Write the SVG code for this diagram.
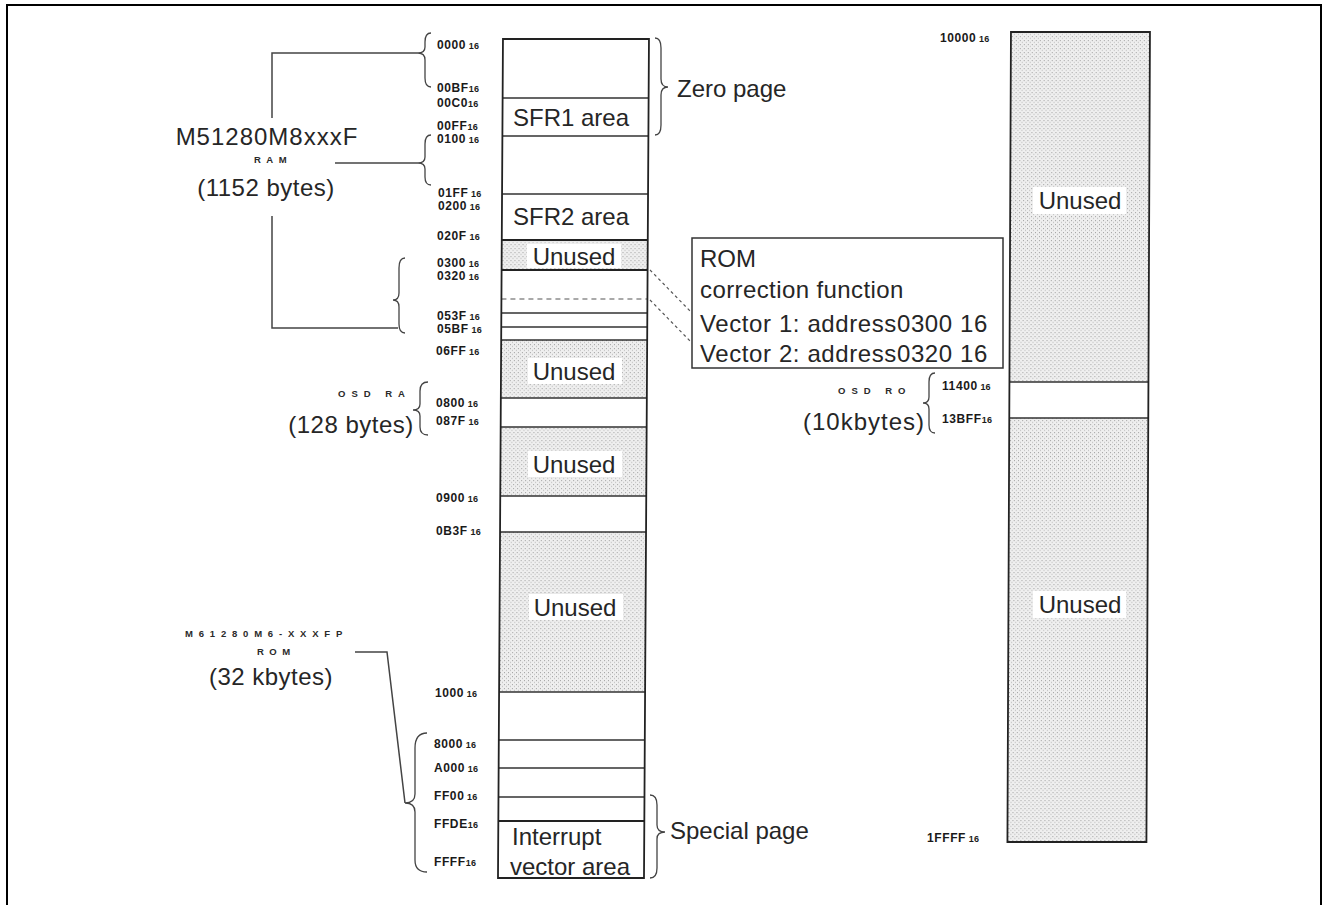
<svg xmlns="http://www.w3.org/2000/svg" width="1323" height="905" viewBox="0 0 1323 905">
<defs>
<pattern id="dots" patternUnits="userSpaceOnUse" width="4" height="4">
<rect width="4" height="4" fill="#efefef"/>
<rect x="0" y="0" width="1" height="1" fill="#a0a0a0"/>
<rect x="2" y="2" width="1" height="1" fill="#b0b0b0"/>
</pattern>
<style>
.big{font-family:"Liberation Sans",Arial,sans-serif;font-size:24px;fill:#262626}
.addr{font-family:"Liberation Sans",Arial,sans-serif;font-size:12px;font-weight:bold;fill:#1a1a1a;letter-spacing:0.6px}
.sub{font-size:9px;letter-spacing:0.2px}
.sp{font-family:"Liberation Sans",Arial,sans-serif;font-size:9.5px;font-weight:bold;fill:#2a2a2a}
.div{stroke:#333;stroke-width:1.5;fill:none}
.edge{stroke:#222;stroke-width:1.8;fill:none}
.brace{stroke:#444;stroke-width:1.3;fill:none}
.lead{stroke:#444;stroke-width:1.5;fill:none}
.dash{stroke:#555;stroke-width:1.2;fill:none;stroke-dasharray:3 3}
.unb{fill:#fff}
</style>
</defs>
<rect width="1323" height="905" fill="#fff"/>
<path d="M7,910 V5 H1321 V910" fill="none" stroke="#000" stroke-width="2"/>

<g id="main-column">
<g transform="skewX(-0.34)">
<rect x="503.2" y="39" width="146" height="839" fill="#fff"/>
<rect x="503.2" y="240" width="146" height="30" fill="url(#dots)"/>
<rect x="503.2" y="340" width="146" height="58" fill="url(#dots)"/>
<rect x="503.2" y="427" width="146" height="69" fill="url(#dots)"/>
<rect x="503.2" y="532" width="146" height="160" fill="url(#dots)"/>
<path class="div" d="M503.2,98H649.2M503.2,136H649.2M503.2,194H649.2M503.2,313H649.2M503.2,327H649.2M503.2,340H649.2M503.2,398H649.2M503.2,427H649.2M503.2,496H649.2M503.2,532H649.2M503.2,692H649.2M503.2,740H649.2M503.2,768H649.2M503.2,797H649.2"/>
<path class="edge" d="M503.2,240H649.2M503.2,270H649.2M503.2,821H649.2"/>
<path d="M503.2,299H649.2" stroke="#555" stroke-width="1.2" stroke-dasharray="5 4"/>
<rect class="edge" x="503.2" y="39" width="146" height="839"/>
</g>
<rect class="unb" x="527" y="244" width="94" height="24"/>
<rect class="unb" x="528" y="358" width="94" height="26"/>
<rect class="unb" x="528" y="451" width="94" height="26"/>
<rect class="unb" x="529" y="594" width="94" height="26"/>
<text class="big" x="513" y="126">SFR1 area</text>
<text class="big" x="513" y="225">SFR2 area</text>
<text class="big" x="574" y="265" text-anchor="middle">Unused</text>
<text class="big" x="574" y="380" text-anchor="middle">Unused</text>
<text class="big" x="574" y="473" text-anchor="middle">Unused</text>
<text class="big" x="575" y="616" text-anchor="middle">Unused</text>
<text class="big" x="512" y="845">Interrupt</text>
<text class="big" x="510" y="875">vector area</text>
</g>

<g id="main-addresses">
<text class="addr" x="437" y="49">0000<tspan class="sub"> 16</tspan></text>
<text class="addr" x="437" y="92">00BF<tspan class="sub">16</tspan></text>
<text class="addr" x="437" y="107">00C0<tspan class="sub">16</tspan></text>
<text class="addr" x="437" y="130">00FF<tspan class="sub">16</tspan></text>
<text class="addr" x="437" y="143">0100<tspan class="sub"> 16</tspan></text>
<text class="addr" x="438" y="197">01FF<tspan class="sub"> 16</tspan></text>
<text class="addr" x="438" y="210">0200<tspan class="sub"> 16</tspan></text>
<text class="addr" x="437" y="240">020F<tspan class="sub"> 16</tspan></text>
<text class="addr" x="437" y="267">0300<tspan class="sub"> 16</tspan></text>
<text class="addr" x="437" y="280">0320<tspan class="sub"> 16</tspan></text>
<text class="addr" x="437" y="320">053F<tspan class="sub"> 16</tspan></text>
<text class="addr" x="437" y="333">05BF<tspan class="sub"> 16</tspan></text>
<text class="addr" x="436" y="355">06FF<tspan class="sub"> 16</tspan></text>
<text class="addr" x="436" y="407">0800<tspan class="sub"> 16</tspan></text>
<text class="addr" x="436" y="425">087F<tspan class="sub"> 16</tspan></text>
<text class="addr" x="436" y="502">0900<tspan class="sub"> 16</tspan></text>
<text class="addr" x="436" y="535">0B3F<tspan class="sub"> 16</tspan></text>
<text class="addr" x="435" y="697">1000<tspan class="sub"> 16</tspan></text>
<text class="addr" x="434" y="748">8000<tspan class="sub"> 16</tspan></text>
<text class="addr" x="434" y="772">A000<tspan class="sub"> 16</tspan></text>
<text class="addr" x="434" y="800">FF00<tspan class="sub"> 16</tspan></text>
<text class="addr" x="434" y="828">FFDE<tspan class="sub">16</tspan></text>
<text class="addr" x="434" y="866">FFFF<tspan class="sub">16</tspan></text>
</g>

<g id="right-column">
<g transform="skewX(-0.25)">
<rect x="1011.1" y="32" width="139" height="810" fill="#fff"/>
<rect x="1011.1" y="32" width="139" height="350" fill="url(#dots)"/>
<rect x="1011.1" y="418" width="139" height="424" fill="url(#dots)"/>
<path class="div" d="M1011.1,382H1150.1M1011.1,418H1150.1"/>
<rect class="edge" x="1011.1" y="32" width="139" height="810"/>
</g>
<rect class="unb" x="1033" y="187" width="93" height="27"/>
<rect class="unb" x="1033" y="591" width="93" height="27"/>
<text class="big" x="1080" y="209" text-anchor="middle">Unused</text>
<text class="big" x="1080" y="613" text-anchor="middle">Unused</text>
<text class="addr" x="940" y="42">10000<tspan class="sub"> 16</tspan></text>
<text class="addr" x="942" y="390">11400<tspan class="sub"> 16</tspan></text>
<text class="addr" x="942" y="423">13BFF<tspan class="sub">16</tspan></text>
<text class="addr" x="927" y="842">1FFFF<tspan class="sub"> 16</tspan></text>
</g>

<g id="zero-page">
<path class="brace" d="M655,38 Q661,38 661,48 L661,79 Q661,87 668,87 Q661,87 661,95 L661,125 Q661,135 655,135"/>
<text class="big" x="677" y="97">Zero page</text>
</g>

<g id="special-page">
<path class="brace" d="M650,795 Q657,795 657,805 L657,825 Q657,832 665,832 Q657,832 657,839 L657,868 Q657,878 650,878"/>
<text class="big" x="670" y="839">Special page</text>
</g>

<g id="rom-correction">
<rect x="692" y="238" width="311" height="130" fill="#fff" stroke="#333" stroke-width="1.5"/>
<text class="big" x="700" y="267">ROM</text>
<text class="big" x="700" y="298" style="letter-spacing:0.4px">correction function</text>
<text class="big" x="700" y="332" style="letter-spacing:0.6px">Vector 1: address0300 16</text>
<text class="big" x="700" y="362" style="letter-spacing:0.6px">Vector 2: address0320 16</text>
</g>

<g id="ram-label">
<text class="big" x="267" y="145" text-anchor="middle" style="letter-spacing:1px">M51280M8xxxF</text>
<text class="sp" x="254" y="163" style="letter-spacing:5.5px">RAM</text>
<text class="big" x="266" y="196" text-anchor="middle" style="letter-spacing:0.5px">(1152 bytes)</text>
</g>

<g id="osd-ram-label">
<text class="sp" x="338" y="397" style="letter-spacing:6px">OSD RA</text>
<text class="big" x="351" y="433" text-anchor="middle" style="letter-spacing:0.5px">(128 bytes)</text>
</g>

<g id="osd-rom-label">
<text class="sp" x="838" y="394" style="letter-spacing:6px">OSD RO</text>
<text class="big" x="864" y="430" text-anchor="middle" style="letter-spacing:1px">(10kbytes)</text>
</g>

<g id="rom-label">
<text class="sp" x="185" y="637" style="letter-spacing:5.8px">M61280M6-XXXFP</text>
<text class="sp" x="257" y="655" style="letter-spacing:5.5px">ROM</text>
<text class="big" x="271" y="685" text-anchor="middle" style="letter-spacing:0.5px">(32 kbytes)</text>
</g>

<g id="connectors">
<path class="brace" d="M431,33 Q425,33 425,42 L425,47 Q425,53 418,53 Q425,53 425,60 L425,78 Q425,87 431,87"/>
<path class="brace" d="M431,135 Q425,135 425,144 L425,157 Q425,163 418,163 Q425,163 425,169 L425,177 Q425,185 431,185"/>
<path class="brace" d="M405,258 Q399,258 399,268 L399,293 Q399,300 393,300 Q399,300 399,307 L399,324 Q399,333 405,333"/>
<path class="brace" d="M428,382 Q420,382 420,391 L420,404 Q420,410 413,410 Q420,410 420,416 L420,427 Q420,435 428,435"/>
<path class="brace" d="M427,733 Q415,733 415,748 L415,794 Q415,803 405,803 Q415,803 415,812 L415,860 Q415,872 427,872"/>
<path class="brace" d="M935,373 Q929,373 929,382 L929,397 Q929,403 923,403 Q929,403 929,409 L929,425 Q929,433 935,433"/>
<path class="lead" d="M418,53 H272 V118"/>
<path class="lead" d="M335,163 H418"/>
<path class="lead" d="M272,216 V328 H398"/>
<path class="lead" d="M355,652 H387 L405,803"/>
<path class="dash" d="M650,270 L692,313"/>
<path class="dash" d="M650,300 L692,343"/>
</g>
</svg>
